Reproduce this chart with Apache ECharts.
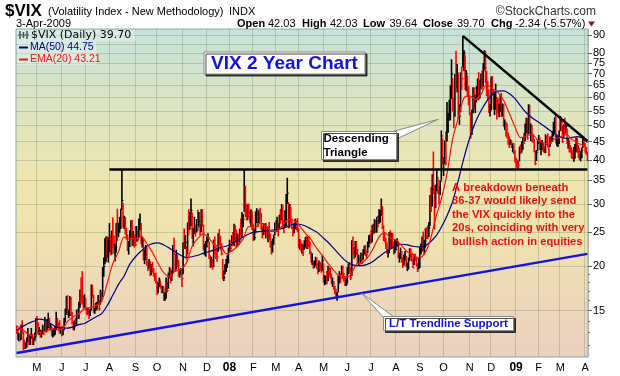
<!doctype html>
<html>
<head>
<meta charset="utf-8">
<title>VIX 2 Year Chart</title>
<script src="https://cdn.jsdelivr.net/npm/echarts@6.0.0/dist/echarts.min.js"></script>
<style>
  html, body { margin: 0; padding: 0; background: #fff; }
  #chart { width: 620px; height: 376px; }
</style>
</head>
<body>
<div id="chart"></div>
<script>
// trading calendar (weekdays minus exchange holidays)
var firstDay = '2007-04-04';
var lastDay = '2009-04-03';
var holidays = ['2007-04-06','2007-05-28','2007-07-04','2007-09-03','2007-11-22','2007-12-25',
  '2008-01-01','2008-01-21','2008-02-18','2008-03-21','2008-05-26','2008-07-04','2008-09-01',
  '2008-11-27','2008-12-25','2009-01-01','2009-01-19','2009-02-16'];
var monthLetters = ['J','F','M','A','M','J','J','A','S','O','N','D'];

// daily bars: [high, low, close]
var hlc2007 = [
  // Apr
  [13.6,12.9,13.2],[13.3,12.4,12.5],[13.0,12.3,12.6],[12.9,12.3,12.5],[13.7,12.4,13.6],[14.1,12.9,13.0],[13.1,11.6,12.2],[12.4,11.7,11.9],[12.2,11.7,11.9],[12.6,11.8,12.4],[13.4,12.2,12.6],[12.8,12.0,12.1],[12.8,12.0,12.7],[13.4,12.5,12.8],[12.9,12.0,12.1],[12.6,12.0,12.5],[13.0,12.3,12.5],[14.3,12.6,14.2],
  // May
  [14.5,13.4,13.9],[13.9,12.9,13.1],[13.5,12.8,13.1],[13.3,12.6,12.9],[13.2,12.6,12.9],[13.7,12.9,13.3],[13.6,12.8,13.2],[14.4,13.1,14.1],[14.0,13.0,13.2],[14.2,13.1,13.8],[14.8,13.4,14.2],[14.3,13.2,13.4],[13.8,13.2,13.5],[13.5,12.7,12.8],[13.3,12.6,12.9],[13.4,12.7,13.0],[13.6,12.8,13.4],[14.9,13.2,14.2],[14.3,13.4,13.6],[13.9,13.1,13.4],[14.1,12.9,13.0],[13.5,12.9,13.1],
  // Jun
  [13.6,12.7,12.8],[13.5,12.8,13.3],[14.3,13.2,14.0],[15.2,13.9,14.9],[16.5,14.6,16.4],[16.6,14.6,14.7],[15.1,14.3,14.7],[16.5,14.5,16.2],[16.4,14.5,14.7],[14.9,13.7,13.9],[14.0,13.2,13.3],[14.1,13.2,13.9],[14.3,13.5,13.7],[15.1,13.6,15.0],[15.2,14.2,14.4],[15.9,14.2,15.6],[17.2,15.3,16.6],[18.6,15.8,16.4],[19.4,15.6,16.2],[16.6,15.2,15.5],[16.7,15.3,16.2],
  // Jul
  [16.3,15.0,15.2],[15.3,14.6,14.9],[15.3,14.6,15.0],[15.1,14.2,14.6],[15.2,14.5,15.1],[17.8,15.0,17.6],[17.7,16.3,16.6],[16.6,14.8,14.9],[15.3,14.7,15.2],[15.8,15.0,15.5],[15.9,15.1,15.6],[16.6,15.7,16.0],[16.0,15.0,15.2],[17.2,15.6,16.9],[17.0,15.9,16.4],[19.9,16.4,19.8],[21.2,18.7,20.0],[24.0,20.3,20.7],[24.3,20.6,24.2],[24.1,21.2,21.4],[24.2,20.5,23.5],
  // Aug
  [26.5,21.9,23.7],[24.5,21.5,22.2],[25.2,21.6,25.2],[27.5,22.5,23.0],[24.5,21.7,21.9],[23.2,20.7,21.9],[26.5,22.0,26.5],[29.1,23.6,25.0],[26.5,24.2,25.4],[27.6,24.9,26.2],[29.1,25.5,29.0],[37.5,29.0,30.7],[30.2,25.7,26.1],[27.8,25.5,27.5],[27.5,24.6,25.0],[25.7,23.8,24.0],[24.6,22.1,22.4],[23.6,21.6,22.9],[25.3,22.7,24.0],[27.0,23.9,26.4],[27.1,22.8,23.3],[25.2,22.9,24.0],[24.6,22.6,23.4],
  // Sep
  [26.0,22.8,23.0],[26.0,23.5,25.1],[25.0,23.5,23.9],[27.3,24.0,26.2],[28.2,25.3,26.4],[26.5,23.1,23.4],[24.3,22.6,23.5],[24.0,20.8,20.9],[22.3,20.3,20.9],[23.0,21.0,22.5],[22.6,20.1,20.4],[20.6,19.4,20.0],[21.0,19.7,20.5],[20.7,18.8,19.0],[20.3,18.9,19.9],[20.6,19.2,19.7],[19.8,18.7,19.0],[19.1,18.2,18.8],[19.2,17.9,18.0],
  // Oct
  [18.2,16.6,17.0],[18.0,16.8,17.8],[18.6,17.5,18.3],[18.2,17.3,17.6],[17.7,16.8,17.0],[17.6,16.8,17.5],[17.4,16.0,16.1],[16.9,16.0,16.6],[18.6,16.2,17.9],[18.1,16.9,17.1],[19.2,17.3,18.9],[19.9,18.5,19.1],[19.8,17.9,18.5],[19.5,18.2,19.3],[23.0,19.1,22.9],[24.1,21.5,21.6],[21.5,19.3,19.4],[22.3,19.6,21.0],[21.6,19.9,20.8],[20.8,18.7,19.0],[19.6,18.6,19.3],[19.8,18.9,19.6],[19.6,17.5,18.5],
  // Nov
  [23.4,19.0,23.2],[25.6,22.4,23.0],[24.5,22.4,23.4],[22.8,20.9,21.4],[26.6,21.6,26.5],[29.0,24.6,25.5],[28.5,25.4,27.7],[31.1,26.0,28.8],[28.4,23.9,24.1],[25.6,22.8,25.1],[27.6,24.7,26.0],[26.3,24.3,24.9],[27.2,25.0,27.0],[28.9,25.2,26.3],[28.5,25.8,26.8],[26.3,24.5,25.0],[29.0,25.0,28.9],[29.0,25.9,26.2],[26.2,22.2,22.4],[23.2,21.5,22.6],[23.6,21.3,22.9],
  // Dec
  [24.3,22.6,23.8],[24.8,23.4,24.1],[23.5,21.0,21.2],[21.5,19.8,20.0],[21.3,19.9,20.9],[21.0,19.6,20.2],[23.8,19.9,23.6],[24.3,21.6,22.3],[23.0,21.0,21.4],[22.4,20.6,21.3],[24.8,22.0,24.5],[25.5,23.0,23.4],[24.4,22.2,22.7],[23.2,21.5,21.7],[21.0,18.4,18.5],[19.5,18.2,18.6],[20.3,19.0,19.6],[21.0,19.3,20.3],[21.5,19.8,20.7],[22.6,20.4,22.5]
];

var hlc2008 = [
  // Jan
  [23.8,22.0,23.2],[23.6,22.0,22.5],[24.5,22.8,23.9],[25.0,23.0,23.8],[26.4,22.8,25.4],[26.2,23.5,24.1],[25.4,22.6,23.0],[24.8,22.8,24.0],[24.6,22.9,23.3],[25.6,23.4,25.4],[27.3,23.8,24.4],[28.5,24.1,27.2],[28.1,25.8,27.2],[37.6,28.5,31.0],[33.8,27.6,29.0],[30.1,27.0,28.0],[29.9,27.0,29.6],[30.1,27.5,28.2],[28.8,26.5,27.0],[29.0,26.0,27.5],[28.7,25.3,26.2],
  // Feb
  [26.4,23.6,24.0],[25.5,23.7,24.1],[28.6,24.8,28.0],[29.2,26.5,28.5],[29.0,25.8,26.2],[28.8,26.5,28.0],[29.3,27.0,27.9],[28.3,25.3,25.9],[26.0,24.0,24.7],[26.5,24.5,25.9],[26.4,24.6,25.0],[26.5,24.0,25.6],[26.0,24.3,24.6],[25.9,23.4,25.0],[26.7,23.7,24.1],[24.8,22.6,23.0],[23.6,21.6,22.0],[24.0,21.9,23.6],[24.6,23.0,24.1],[26.6,24.5,26.5],
  // Mar
  [27.0,25.3,26.0],[27.6,25.0,26.0],[26.5,24.3,25.5],[28.0,25.6,27.6],[29.0,26.4,27.5],[30.0,27.0,29.4],[29.8,25.5,26.4],[27.0,24.8,26.2],[28.8,25.7,27.3],[32.0,26.0,31.2],[35.6,30.0,32.2],[30.4,25.6,26.0],[30.0,25.7,29.8],[29.5,26.4,26.6],[27.3,25.5,25.8],[25.8,24.3,25.2],[26.6,24.8,25.9],[27.3,25.5,26.6],[27.0,25.3,25.7],[27.4,25.0,25.6],
  // Apr
  [25.6,22.5,22.7],[23.9,22.3,23.0],[23.7,22.1,22.5],[23.2,21.7,22.5],[23.0,21.4,22.4],[23.7,22.3,23.0],[24.2,22.6,23.8],[24.4,22.4,23.0],[24.3,22.4,23.5],[24.4,22.7,23.1],[23.5,21.6,21.9],[22.0,20.5,20.6],[21.8,20.2,20.7],[20.6,19.7,20.1],[20.8,19.8,20.1],[21.3,20.1,20.9],[21.2,19.7,20.0],[20.4,19.0,19.5],[20.8,19.3,20.1],[20.6,19.5,19.9],[20.4,19.2,19.7],[21.5,19.4,20.8],
  // May
  [20.4,18.0,18.2],[18.9,17.7,18.2],[18.8,17.8,18.5],[19.4,17.8,18.2],[20.1,18.2,19.6],[19.9,18.7,19.1],[19.8,18.5,18.8],[19.1,17.8,17.9],[18.6,17.5,18.0],[18.2,17.2,17.5],[17.6,16.7,16.9],[17.3,16.4,16.5],[16.9,16.0,16.5],[18.8,16.9,18.4],[19.4,17.9,19.0],[19.1,18.0,18.6],[20.1,18.9,19.8],[20.1,18.4,18.7],[19.2,18.1,18.6],[18.8,17.6,17.8],[18.5,17.6,17.8],
  // Jun
  [19.9,17.9,19.4],[20.4,19.0,20.0],[20.6,19.1,19.6],[19.9,18.3,18.6],[23.7,18.8,23.6],[24.3,21.6,22.2],[22.7,21.0,21.7],[23.6,21.2,23.5],[23.5,21.5,22.0],[22.4,20.3,20.6],[21.6,20.2,21.1],[21.3,20.0,20.6],[21.9,20.4,21.5],[21.8,20.3,20.6],[22.4,20.9,22.2],[22.9,21.6,22.2],[23.0,21.4,21.9],[22.2,21.0,21.6],[23.5,21.8,23.4],[24.5,22.6,23.8],[24.6,23.2,23.9],
  // Jul
  [25.3,23.2,23.6],[26.2,23.4,26.1],[26.4,24.6,25.1],[27.2,24.8,26.9],[27.0,24.9,25.1],[27.6,24.9,27.4],[27.8,25.7,26.5],[29.0,26.4,27.5],[28.9,26.6,28.5],[31.1,27.8,29.3],[29.6,25.5,25.7],[26.1,23.6,24.0],[25.0,23.4,23.9],[24.0,22.4,22.6],[23.4,21.7,21.9],[22.4,21.2,22.1],[25.0,21.8,24.9],[25.3,22.5,22.7],[24.9,22.4,24.7],[24.9,22.7,23.4],[23.4,21.6,22.0],[23.8,21.8,22.9],
  // Aug
  [23.8,22.2,23.2],[24.0,22.8,23.5],[23.5,21.1,21.2],[21.9,20.5,21.4],[22.6,21.0,22.0],[22.0,20.5,20.7],[21.2,19.8,20.5],[21.6,20.1,21.2],[22.1,20.8,21.3],[21.3,19.9,20.0],[20.5,19.4,20.0],[21.2,19.6,20.9],[22.5,20.7,22.0],[22.5,20.9,21.3],[21.9,20.6,20.8],[21.0,19.8,19.8],[21.7,20.2,21.4],[21.7,20.7,20.9],[21.3,20.0,20.1],[20.4,19.3,19.4],[21.2,19.6,20.7],
  // Sep
  [22.7,19.8,21.9],[23.2,21.6,22.5],[24.3,22.0,24.0],[25.1,22.1,22.6],[23.8,21.6,22.6],[25.6,22.7,25.5],[25.8,23.9,24.8],[26.1,23.9,24.4],[26.7,24.2,25.7],[31.8,26.0,31.7],[33.5,28.5,30.3],[36.4,29.5,36.2],[42.2,32.0,33.1],[33.9,25.4,32.1],[34.0,29.2,33.9],[37.5,32.6,35.7],[35.5,32.0,32.8],[33.7,29.9,30.3],[35.0,31.8,34.7],[48.4,35.0,46.7],[46.0,38.7,39.4],
  // Oct
  [40.7,36.0,39.8],[45.3,38.9,45.3],[48.1,38.6,45.1],[58.2,45.1,52.1],[54.2,47.7,53.7],[59.1,51.6,57.5],[64.9,51.7,63.9],[76.9,59.4,69.9],[68.0,54.8,55.0],[59.6,49.1,53.1],[69.9,53.0,69.3],[81.2,63.7,67.6],[74.6,61.9,70.3],[70.0,52.1,53.0],[57.3,50.2,53.1],[70.6,54.5,69.7],[73.2,63.0,67.8],[89.5,72.9,79.1],[81.7,71.1,80.1],[79.0,63.1,67.0],[71.7,62.5,70.0],[69.2,60.2,62.9],[64.6,57.0,59.9],
  // Nov
  [60.6,53.4,54.2],[54.5,45.9,47.7],[55.5,47.0,54.6],[64.1,54.1,63.7],[64.0,55.5,56.1],[60.9,54.2,58.8],[64.5,58.1,61.2],[67.9,59.2,66.5],[70.7,58.9,59.8],[67.3,59.7,66.3],[70.1,63.6,67.6],[71.5,63.0,65.8],[75.0,64.4,74.3],[81.5,71.4,80.9],[81.0,65.7,72.7],[71.3,60.5,64.7],[66.8,59.0,60.9],[63.2,54.2,54.9],[57.5,53.0,55.3],
  // Dec
  [68.6,55.2,68.5],[68.9,61.0,62.6],[63.4,55.4,55.7],[62.4,53.5,59.9],[65.6,55.4,59.9],[59.9,52.0,58.9],[59.9,54.0,55.7],[57.6,52.7,55.7],[61.2,54.6,59.9],[61.8,52.8,54.3],[57.7,53.0,56.8],[57.5,49.6,49.8],[52.0,48.5,50.2],[51.3,46.5,47.6],[50.8,46.0,47.3],[47.8,44.1,44.9],[46.6,43.2,44.4],[45.7,44.1,45.0],[45.4,43.2,43.4],[44.5,42.0,43.4],[44.6,41.5,42.0],[42.6,39.3,40.0]
];

var hlc2009 = [
  // Jan
  [40.6,38.0,39.2],[40.1,37.5,39.1],[39.7,37.8,38.6],[43.6,39.6,43.4],[44.2,41.5,42.8],[45.1,41.9,43.0],[46.4,42.7,45.8],[47.6,44.3,45.2],[50.6,45.2,49.1],[52.6,47.5,51.0],[52.5,45.6,46.1],[57.4,47.2,56.7],[57.2,47.3,47.3],[50.6,45.2,47.3],[50.1,44.9,45.8],[47.2,44.7,45.7],[45.8,42.0,42.3],[42.4,38.6,39.0],[42.6,39.7,42.0],[45.8,42.4,44.8],
  // Feb
  [47.0,44.3,45.5],[46.2,42.6,42.9],[44.9,41.2,43.1],[45.5,42.6,43.4],[44.7,42.1,43.0],[43.7,41.7,42.3],[47.2,41.8,46.5],[46.8,44.0,44.5],[47.5,43.3,43.9],[44.2,40.9,41.3],[46.5,43.5,46.0],[46.8,44.4,45.5],[48.2,44.9,45.9],[51.2,46.5,49.3],[52.6,47.3,52.6],[53.8,44.5,44.7],[46.8,43.7,44.7],[46.4,43.5,44.9],[48.4,44.3,46.4],
  // Mar
  [53.2,48.2,52.7],[52.6,48.1,50.9],[50.0,44.6,45.0],[50.4,46.1,50.2],[52.6,46.9,49.3],[51.0,47.5,49.7],[49.0,44.3,44.4],[46.1,43.0,44.4],[45.5,42.0,43.6],[44.0,41.8,42.4],[43.4,40.3,41.5],[42.6,40.2,40.4],[43.5,39.5,42.4],[44.3,40.3,42.9],[46.2,42.0,45.9],[46.1,41.9,43.2],[44.1,40.5,42.9],[43.1,40.0,41.0],[42.3,39.6,41.0],[43.3,40.4,42.6],[46.2,43.2,45.5],[45.9,43.8,44.1],
  // Apr
  [44.6,41.9,42.3],[43.2,41.3,42.04],[42.03,39.64,39.70]
];
var priorClose = 13.4;

// moving averages, one value every 5 sessions (last = final session)
var lineStep = 5;
var ma50 = [
  13.2,13.5,13.8,14.0,14.2,14.1,13.8,13.5,13.4,13.4,
  13.5,13.7,13.8,14.1,14.4,14.7,15.5,16.6,17.8,18.8,
  20.3,21.3,22.1,22.8,23.2,23.3,23.0,22.5,22.0,21.5,
  21.2,21.3,21.5,21.8,22.0,22.3,22.6,22.8,23.2,23.7,
  24.2,24.7,25.0,25.1,25.2,25.3,25.4,25.6,26.0,26.3,
  26.3,26.0,25.5,25.0,24.2,23.4,22.5,21.6,20.8,20.3,
  20.1,20.1,20.3,20.7,21.3,21.9,22.4,22.8,23.1,23.0,
  22.8,22.7,22.8,23.4,24.3,25.8,27.8,30.5,35.0,40.5,
  46.0,51.0,55.0,58.5,61.0,62.5,62.6,61.5,59.5,56.8,
  54.3,52.6,51.3,50.0,48.6,47.4,46.3,46.0,46.2,46.5,
  46.0,44.75
];
var ema20 = [
  13.6,13.3,12.9,12.7,13.0,13.1,13.3,13.3,13.3,14.0,
  14.4,14.7,15.2,15.3,15.5,15.9,17.9,20.4,22.0,24.2,
  24.0,23.9,24.3,23.2,21.9,20.4,19.2,18.7,19.4,19.6,
  20.5,22.8,24.0,24.7,24.0,23.0,22.9,21.7,22.1,22.8,
  23.9,25.9,25.8,26.5,26.1,25.1,25.2,26.1,27.1,26.9,
  26.0,24.8,23.8,22.5,21.5,20.4,19.5,18.8,18.7,18.9,
  20.3,20.5,21.2,22.5,24.2,24.9,24.1,23.7,22.9,22.0,
  21.6,21.1,21.7,23.6,27.4,31.0,36.5,45.8,52.5,59.8,
  60.6,59.1,61.2,65.3,63.5,62.0,58.9,54.1,49.6,46.2,
  46.6,47.3,45.5,44.7,44.3,45.8,46.3,47.4,45.7,44.7,
  43.9,43.21
];

// drawn annotations
var supportLevel = 37.5;
var supportFrom = '2007-08-01';
var triangleFrom = ['2008-10-24', 89.5];
var triangleEnd = 45.2;
var trendFrom = ['2007-04-04', 11.4];
var trendEnd = 21.7;

// right axis
var yMin = 11.1, yMax = 93.6;
var yLabels = [15,20,25,30,35,40,45,50,55,60,65,70,75,80,85,90];
var yMinor = [12,13,14,16,17,18,19];

function tradingDays(from, to) {
  var out = [];
  var d = new Date(from + 'T00:00:00Z');
  var end = new Date(to + 'T00:00:00Z');
  while (d <= end) {
    var s = d.toISOString().slice(0, 10);
    var wd = d.getUTCDay();
    if (wd !== 0 && wd !== 6 && holidays.indexOf(s) < 0) out.push(s);
    d.setUTCDate(d.getUTCDate() + 1);
  }
  return out;
}

var dates = tradingDays(firstDay, lastDay);
var bars = hlc2007.concat(hlc2008, hlc2009);
var n = bars.length;

var barData = bars.map(function (b, i) {
  var prev = i ? bars[i - 1][2] : priorClose;
  return [i, b[0], b[1], b[2], b[2] < prev ? 1 : 0];
});
function stepped(arr) {
  return arr.map(function (v, i) { return [Math.min(i * lineStep, n - 1), v]; });
}

function isMonthStart(index, value) {
  return index > 0 && dates[index - 1].slice(0, 7) !== String(value).slice(0, 7);
}

// HLC bar: high-low stick plus close tick on the right
function renderBar(params, api) {
  var i = api.value(0);
  var hi = api.coord([i, api.value(1)]);
  var lo = api.coord([i, api.value(2)]);
  var cl = api.coord([i, api.value(3)]);
  var color = api.value(4) ? '#ff0000' : '#000000';
  return {
    type: 'group',
    children: [
      { type: 'line', shape: { x1: hi[0], y1: hi[1], x2: lo[0], y2: lo[1] }, style: { stroke: color, lineWidth: 1.6 } },
      { type: 'line', shape: { x1: cl[0], y1: cl[1], x2: cl[0] + 1.6, y2: cl[1] }, style: { stroke: color, lineWidth: 1 } }
    ]
  };
}

var gridColor = 'rgba(70,90,60,0.22)';
var font = '"Liberation Sans", Arial, sans-serif';
var blue = '#1212e6';
var red = '#f01010';

var chart = echarts.init(document.getElementById('chart'));

function txt(x, y, s, f, color, align) {
  return { type: 'text', x: x, y: y, z: 100, style: { text: s, font: f, fill: color || '#000', align: align || 'left', verticalAlign: 'middle' } };
}

var option = {
  animation: false,
  backgroundColor: '#ffffff',
  textStyle: { fontFamily: font },
  grid: {
    left: 16, right: 32, top: 29, bottom: 19,
    show: true, borderColor: '#8fa9b0', borderWidth: 1,
    backgroundColor: new echarts.graphic.LinearGradient(0, 0, 0, 1, [
      { offset: 0, color: '#c6e2da' },
      { offset: 0.2, color: '#d9e4c6' },
      { offset: 0.45, color: '#eee6b0' },
      { offset: 0.62, color: '#f0e2ae' },
      { offset: 0.82, color: '#eed8ba' },
      { offset: 1, color: '#ead0be' }
    ])
  },
  xAxis: {
    type: 'category',
    data: dates,
    boundaryGap: true,
    axisLine: { show: false },
    axisTick: { show: false },
    axisLabel: {
      interval: isMonthStart,
      margin: 5,
      fontSize: 11,
      color: '#000',
      fontFamily: font,
      formatter: function (v) {
        var m = parseInt(v.slice(5, 7), 10);
        if (m === 1) return '{yr|' + v.slice(2, 4) + '}';
        return monthLetters[m - 1];
      },
      rich: { yr: { fontWeight: 'bold', fontSize: 12, fontFamily: font, color: '#000' } }
    },
    splitLine: { show: true, interval: isMonthStart, lineStyle: { color: gridColor, width: 1 } }
  },
  yAxis: [{
    type: 'log', logBase: 10, min: yMin, max: yMax, position: 'right',
    axisLine: { show: false },
    axisTick: { show: true, length: 4, customValues: yLabels, lineStyle: { color: '#666' } },
    axisLabel: {
      customValues: yLabels, margin: 5, fontSize: 11, color: '#000', fontFamily: font,
      hideOverlap: false, showMaxLabel: true, showMinLabel: true
    },
    splitLine: { show: true, lineStyle: { color: gridColor, width: 1 } }
  }, {
    type: 'log', logBase: 10, min: yMin, max: yMax, position: 'right',
    axisLine: { show: false },
    axisTick: { show: true, length: 2, customValues: yMinor, lineStyle: { color: '#777' } },
    axisLabel: { show: false },
    splitLine: { show: false }
  }],
  series: [
    {
      type: 'custom', name: '$VIX', renderItem: renderBar, data: barData,
      encode: { x: 0, y: [1, 2, 3] }, silent: true, z: 2, clip: true
    },
    {
      type: 'line', name: 'MA(50)', data: stepped(ma50), showSymbol: false, smooth: 0.3,
      lineStyle: { color: '#00008c', width: 1.2 }, silent: true, z: 3,
      markLine: {
        silent: true, symbol: 'none', animation: false,
        label: { show: false },
        data: [
          [{ coord: [supportFrom, supportLevel], lineStyle: { color: '#000', width: 2.5, type: 'solid' } }, { coord: [lastDay, supportLevel] }],
          [{ coord: triangleFrom, lineStyle: { color: '#000', width: 2.5, type: 'solid' } }, { coord: [lastDay, triangleEnd] }],
          [{ coord: trendFrom, lineStyle: { color: blue, width: 2.5, type: 'solid' } }, { coord: [lastDay, trendEnd] }]
        ]
      }
    },
    {
      type: 'line', name: 'EMA(20)', data: stepped(ema20), showSymbol: false, smooth: 0.3,
      lineStyle: { color: '#ff1010', width: 1.2 }, silent: true, z: 3
    }
  ],
  graphic: [
    // header
    txt(5, 11, '$VIX', 'bold 17px ' + font),
    txt(48, 12, '(Volatility Index - New Methodology)', '11px ' + font),
    txt(229, 12, 'INDX', '11px ' + font),
    txt(596, 12, '\u00A9StockCharts.com', '12px ' + font, '#333', 'right'),
    txt(16, 24, '3-Apr-2009', '11px ' + font),
    txt(237, 24, 'Open', 'bold 11px ' + font),
    txt(268, 24, '42.03', '11px ' + font),
    txt(302, 24, 'High', 'bold 11px ' + font),
    txt(330, 24, '42.03', '11px ' + font),
    txt(363, 24, 'Low', 'bold 11px ' + font),
    txt(389.5, 24, '39.64', '11px ' + font),
    txt(423, 24, 'Close', 'bold 11px ' + font),
    txt(457, 24, '39.70', '11px ' + font),
    txt(491, 24, 'Chg', 'bold 11px ' + font),
    txt(515, 24, '-2.34 (-5.57%)', '11px ' + font),
    { type: 'polygon', z: 100, shape: { points: [[588, 21.5], [595, 21.5], [591.5, 26.5]] }, style: { fill: '#8b1030' } },

    // legend
    { type: 'rect', z: 90, shape: { x: 17, y: 30, width: 119, height: 11 }, style: { fill: 'rgba(255,255,255,0.3)' } },
    { type: 'rect', z: 90, shape: { x: 17, y: 41, width: 79, height: 24 }, style: { fill: 'rgba(255,255,255,0.3)' } },
    { type: 'group', z: 100, children: [
      { type: 'line', shape: { x1: 20, y1: 31, x2: 20, y2: 39 }, style: { stroke: '#000', lineWidth: 1.5 } },
      { type: 'line', shape: { x1: 23.5, y1: 32, x2: 23.5, y2: 38 }, style: { stroke: '#000', lineWidth: 1.5 } },
      { type: 'line', shape: { x1: 27, y1: 31, x2: 27, y2: 39 }, style: { stroke: '#000', lineWidth: 1.5 } },
      { type: 'line', shape: { x1: 18, y1: 35, x2: 29, y2: 35 }, style: { stroke: '#000', lineWidth: 1 } }
    ] },
    txt(31, 35.5, '$VIX (Daily) 39.70', '11px "DejaVu Sans", sans-serif'),
    { type: 'line', z: 100, shape: { x1: 19, y1: 47.5, x2: 28, y2: 47.5 }, style: { stroke: '#00008c', lineWidth: 2 } },
    txt(30, 47.5, 'MA(50) 44.75', '10.5px ' + font, '#00008c'),
    { type: 'line', z: 100, shape: { x1: 19, y1: 59.5, x2: 28, y2: 59.5 }, style: { stroke: '#ff1010', lineWidth: 2 } },
    txt(30, 59.5, 'EMA(20) 43.21', '10.5px ' + font, '#ff1010'),

    // title box
    { type: 'rect', z: 100, shape: { x: 204, y: 52, width: 161, height: 22 }, style: { fill: '#fff', stroke: '#888', lineWidth: 1, shadowColor: 'rgba(0,0,0,0.7)', shadowOffsetX: 2, shadowOffsetY: 2 } },
    { type: 'text', x: 284.5, y: 63.5, z: 101, style: { text: 'VIX 2 Year Chart', font: 'bold 19px ' + font, fill: blue, align: 'center', verticalAlign: 'middle' } },

    // descending triangle callout
    { type: 'polygon', z: 100, shape: { points: [[389, 132.5], [438.3, 119.3], [396.5, 139]] }, style: { fill: '#fff', stroke: '#888', lineWidth: 1 } },
    { type: 'rect', z: 101, shape: { x: 321.5, y: 131.5, width: 75, height: 28 }, style: { fill: '#fff', stroke: '#888', lineWidth: 1, shadowColor: 'rgba(0,0,0,0.7)', shadowOffsetX: 2, shadowOffsetY: 2 } },
    { type: 'text', x: 323.5, y: 139, z: 102, style: { text: 'Descending', font: 'bold 11.5px ' + font, fill: '#000', verticalAlign: 'middle' } },
    { type: 'text', x: 323.5, y: 152.5, z: 102, style: { text: 'Triangle', font: 'bold 11.5px ' + font, fill: '#000', verticalAlign: 'middle' } },

    // trendline callout
    { type: 'polygon', z: 100, shape: { points: [[361.7, 293.3], [384, 318], [394, 317]] }, style: { fill: '#fff', stroke: '#888', lineWidth: 1 } },
    { type: 'rect', z: 101, shape: { x: 383.5, y: 316.5, width: 130, height: 14 }, style: { fill: '#fff', stroke: '#888', lineWidth: 1, shadowColor: 'rgba(0,0,0,0.7)', shadowOffsetX: 2, shadowOffsetY: 2 } },
    { type: 'text', x: 448.5, y: 324, z: 102, style: { text: 'L/T Trendline Support', font: 'bold 11.5px ' + font, fill: blue, align: 'center', verticalAlign: 'middle' } },

    // red note
    txt(452, 187.5, 'A breakdown beneath', 'bold 11.2px ' + font, red),
    txt(452, 201, '36-37 would likely send', 'bold 11.2px ' + font, red),
    txt(452, 214.5, 'the VIX quickly into the', 'bold 11.2px ' + font, red),
    txt(452, 228, '20s, coinciding with very', 'bold 11.2px ' + font, red),
    txt(452, 241.7, 'bullish action in equities', 'bold 11.2px ' + font, red)
  ]
};

chart.setOption(option);
</script>
</body>
</html>
